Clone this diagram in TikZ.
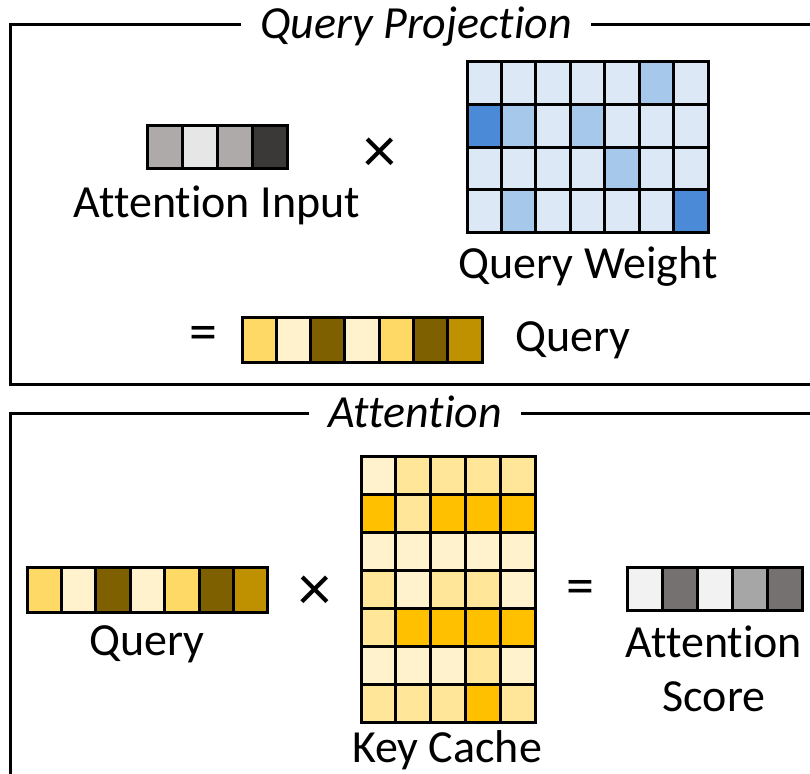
\documentclass[tikz,border=0pt]{standalone}
\usepackage{fontspec}
\setmainfont{Carlito}[Ligatures={NoCommon,NoContextual}]

% grays
\definecolor{gA}{HTML}{AEAAAA}
\definecolor{gB}{HTML}{E7E6E6}
\definecolor{gC}{HTML}{3B3838}
\definecolor{sA}{HTML}{F2F2F2}
\definecolor{sB}{HTML}{767171}
\definecolor{sC}{HTML}{A6A6A6}
% blues
\definecolor{qwL}{HTML}{DCE8F6}
\definecolor{qwM}{HTML}{A6C8EB}
\definecolor{qwD}{HTML}{4A8AD6}
% golds
\definecolor{yA}{HTML}{FFD966}
\definecolor{yB}{HTML}{FFF2CC}
\definecolor{yC}{HTML}{7F6000}
\definecolor{yD}{HTML}{BF9000}
\definecolor{kcP}{HTML}{FFF2CC}
\definecolor{kcL}{HTML}{FFE699}
\definecolor{kcS}{HTML}{FFC000}

\begin{document}
\begin{tikzpicture}[x=1pt,y=-1pt,
  cell/.style={draw=black, line width=3pt, inner sep=0pt},
  lbl/.style={font=\fontsize{46}{52}\selectfont, inner sep=0pt, anchor=base},
  times/.style={font=\fontsize{66}{70}\selectfont, inner sep=0pt},
  equal/.style={font=\fontsize{56}{60}\selectfont, inner sep=0pt},
  frame/.style={line width=3pt, draw=black},
  heading/.style={font=\fontsize{46}{52}\selectfont\itshape, fill=white,
    inner xsep=19pt, inner ysep=4pt, anchor=base}]
\useasboundingbox (0,0) rectangle (810,773);

% ---------- Query projection panel ----------
\draw[frame] (10,25) rectangle (830,384);
\node[heading] (t1) at (416,39) {Query Projection};

% attention input vector
\foreach \c [count=\k] in {gA,gB,gA,gC}
  \node[cell, minimum width=35pt, minimum height=43pt, fill=\c]
    (ai-\k) at ({147+(\k-0.5)*35}, 146.5) {};
\node[lbl] (ail) at (217,217) {Attention Input};

\node[times] (times1) at (380,155) {×};

% query weight matrix
\foreach \row [count=\r] in {{L,L,L,L,L,M,L},{D,M,L,M,L,L,L},{L,L,L,L,M,L,L},{L,M,L,L,L,L,D}} {
  \foreach \c [count=\k] in \row {
    \node[cell, minimum width=34.43pt, minimum height=42.5pt, fill=qw\c]
      (qw-\r-\k) at ({467+(\k-0.5)*34.43}, {62+(\r-0.5)*42.5}) {};
  }
}
\node[lbl] (qwl) at (588,278) {Query Weight};

\node[equal] (eq1) at (203,338) {=};
\foreach \c [count=\k] in {yA,yB,yC,yB,yA,yC,yD}
  \node[cell, minimum width=34.3pt, minimum height=45pt, fill=\c]
    (q1-\k) at ({242+(\k-0.5)*34.3}, 339.5) {};
\node[lbl] (q1l) at (573,351) {Query};

% ---------- Attention panel ----------
\draw[frame] (10,413) rectangle (830,800);
\node[heading] (t2) at (415,427) {Attention};

% query vector
\foreach \c [count=\k] in {yA,yB,yC,yB,yA,yC,yD}
  \node[cell, minimum width=34.4pt, minimum height=45pt, fill=\c]
    (q2-\k) at ({27+(\k-0.5)*34.4}, 589.5) {};
\node[lbl] (q2l) at (147,655) {Query};

\node[times] (times2) at (315,593) {×};

% key cache matrix
\foreach \row [count=\r] in {{P,L,L,L,L},{S,L,S,S,S},{P,P,P,P,P},{L,P,L,L,P},{L,S,S,S,S},{P,P,P,L,P},{L,L,L,S,L}} {
  \foreach \c [count=\k] in \row {
    \node[cell, minimum width=34.8pt, minimum height=38pt, fill=kc\c]
      (kc-\r-\k) at ({361+(\k-0.5)*34.8}, {456+(\r-0.5)*38}) {};
  }
}
\node[lbl] (kcl) at (447,762) {Key Cache};

\node[equal] (eq2) at (580,592) {=};

% attention score vector
\foreach \c [count=\k] in {sA,sB,sA,sC,sB}
  \node[cell, minimum width=35pt, minimum height=43pt, fill=\c]
    (as-\k) at ({627+(\k-0.5)*35}, 588.5) {};
\node[lbl] (asl1) at (714,657) {Attention};
\node[lbl] (asl2) at (714,711) {Score};
\end{tikzpicture}
\end{document}
